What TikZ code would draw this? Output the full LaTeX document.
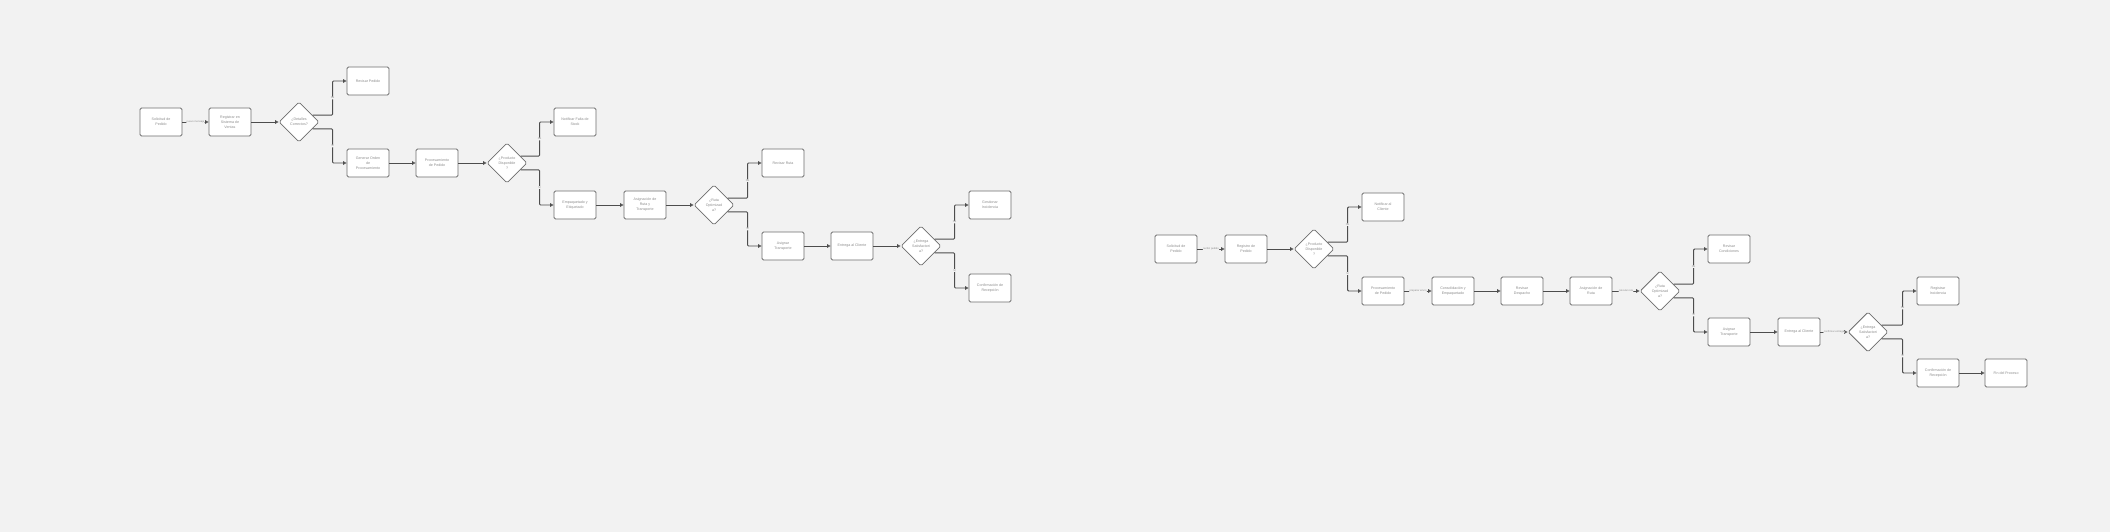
\documentclass[tikz,border=0pt]{standalone}
\usepackage{fontspec}
\setmainfont{Liberation Sans}
\usetikzlibrary{arrows.meta,shapes.geometric}
\definecolor{bgcol}{HTML}{F2F2F2}
\definecolor{linecol}{HTML}{4D4D4D}
\definecolor{boxline}{HTML}{6E6E6E}
\definecolor{txtcol}{HTML}{8C8C8C}
\begin{document}
\begin{tikzpicture}[x=1pt, y=-1pt,
  font=\fontsize{3.6}{5}\selectfont, text=txtcol,
  >={Triangle[open, length=3.5pt, width=3.5pt]},
  proc/.style={draw=boxline, fill=white, line width=0.8pt, rounded corners=1.5pt,
    minimum width=42pt, minimum height=28pt, inner sep=1pt, align=center},
  decide/.style={draw=boxline, fill=white, line width=0.8pt, diamond, rounded corners=1.5pt,
    minimum width=40pt, minimum height=40pt, inner sep=0pt, align=center},
  flow/.style={->, draw=linecol, line width=0.9pt, rounded corners=1pt},
  note/.style={font=\fontsize{2.6}{3}\selectfont, fill=bgcol, inner sep=0.4pt}]
\fill[bgcol] (0,0) rectangle (2110,532);
\useasboundingbox (0,0) rectangle (2110,532);

% first flow
\node[proc] (a1) at (161,122) {Solicitud de\\Pedido};
\node[proc] (a2) at (230,122) {Registrar en\\Sistema de\\Ventas};
\node[decide] (a3) at (299,122) {¿Detalles\\Correctos?};
\node[proc] (a4) at (368,81) {Revisar Pedido};
\node[proc] (a5) at (368,163) {Generar Orden\\de\\Procesamiento};
\node[proc] (a6) at (437,163) {Procesamiento\\de Pedido};
\node[decide] (a7) at (507,163) {¿Producto\\Disponible\\?};
\node[proc] (a8) at (575,122) {Notificar Falta de\\Stock};
\node[proc] (a9) at (575,205) {Empaquetado y\\Etiquetado};
\node[proc] (a10) at (645,205) {Asignación de\\Ruta y\\Transporte};
\node[decide] (a11) at (714,205) {¿Ruta\\Optimizad\\a?};
\node[proc] (a12) at (783,163) {Revisar Ruta};
\node[proc] (a13) at (783,246) {Asignar\\Transporte};
\node[proc] (a14) at (852,246) {Entrega al Cliente};
\node[decide] (a15) at (921,246) {¿Entrega\\Satisfactori\\a?};
\node[proc] (a16) at (990,205) {Gestionar\\Incidencia};
\node[proc] (a17) at (990,288) {Confirmación de\\Recepción};

\draw[flow] (a1) -- node[note] {nuevo mensaje} (a2);
\draw[flow] (a2) -- (a3);
\draw[flow] (a3.27) -| ([xshift=-14pt]a4.west) node[note, pos=0.75] {No} -- (a4.west);
\draw[flow] (a3.-27) -| ([xshift=-14pt]a5.west) node[note, pos=0.75] {Sí} -- (a5.west);
\draw[flow] (a5) -- (a6);
\draw[flow] (a6) -- (a7);
\draw[flow] (a7.27) -| ([xshift=-14pt]a8.west) node[note, pos=0.75] {No} -- (a8.west);
\draw[flow] (a7.-27) -| ([xshift=-14pt]a9.west) node[note, pos=0.75] {Sí} -- (a9.west);
\draw[flow] (a9) -- (a10);
\draw[flow] (a10) -- (a11);
\draw[flow] (a11.27) -| ([xshift=-14pt]a12.west) node[note, pos=0.75] {No} -- (a12.west);
\draw[flow] (a11.-27) -| ([xshift=-14pt]a13.west) node[note, pos=0.75] {Sí} -- (a13.west);
\draw[flow] (a13) -- (a14);
\draw[flow] (a14) -- (a15);
\draw[flow] (a15.27) -| ([xshift=-14pt]a16.west) node[note, pos=0.75] {No} -- (a16.west);
\draw[flow] (a15.-27) -| ([xshift=-14pt]a17.west) node[note, pos=0.75] {Sí} -- (a17.west);

% second flow
\node[proc] (b1) at (1176,249) {Solicitud de\\Pedido};
\node[proc] (b2) at (1246,249) {Registro de\\Pedido};
\node[decide] (b3) at (1314,249) {¿Producto\\Disponible\\?};
\node[proc] (b4) at (1383,207) {Notificar al\\Cliente};
\node[proc] (b5) at (1383,291) {Procesamiento\\de Pedido};
\node[proc] (b6) at (1453,291) {Consolidación y\\Empaquetado};
\node[proc] (b7) at (1522,291) {Revisar\\Despacho};
\node[proc] (b8) at (1591,291) {Asignación de\\Ruta};
\node[decide] (b9) at (1660,291) {¿Ruta\\Optimizad\\a?};
\node[proc] (b10) at (1729,249) {Revisar\\Condiciones};
\node[proc] (b11) at (1729,332) {Asignar\\Transporte};
\node[proc] (b12) at (1799,332) {Entrega al Cliente};
\node[decide] (b13) at (1868,332) {¿Entrega\\Satisfactori\\a?};
\node[proc] (b14) at (1938,291) {Registrar\\Incidencia};
\node[proc] (b15) at (1938,373) {Confirmación de\\Recepción};
\node[proc] (b16) at (2006,373) {Fin del Proceso};

\draw[flow] (b1) -- node[note] {recibir pedido} (b2);
\draw[flow] (b2) -- (b3);
\draw[flow] (b3.27) -| ([xshift=-14pt]b4.west) node[note, pos=0.75] {No} -- (b4.west);
\draw[flow] (b3.-27) -| ([xshift=-14pt]b5.west) node[note, pos=0.75] {Sí} -- (b5.west);
\draw[flow] (b5) -- node[note] {preparar envío} (b6);
\draw[flow] (b6) -- (b7);
\draw[flow] (b7) -- (b8);
\draw[flow] (b8) -- node[note] {calcular ruta} (b9);
\draw[flow] (b9.27) -| ([xshift=-14pt]b10.west) node[note, pos=0.75] {No} -- (b10.west);
\draw[flow] (b9.-27) -| ([xshift=-14pt]b11.west) node[note, pos=0.75] {Sí} -- (b11.west);
\draw[flow] (b11) -- (b12);
\draw[flow] (b12) -- node[note] {confirmar entrega} (b13);
\draw[flow] (b13.27) -| ([xshift=-14pt]b14.west) node[note, pos=0.75] {No} -- (b14.west);
\draw[flow] (b13.-27) -| ([xshift=-14pt]b15.west) node[note, pos=0.75] {Sí} -- (b15.west);
\draw[flow] (b15) -- (b16);
\end{tikzpicture}
\end{document}
